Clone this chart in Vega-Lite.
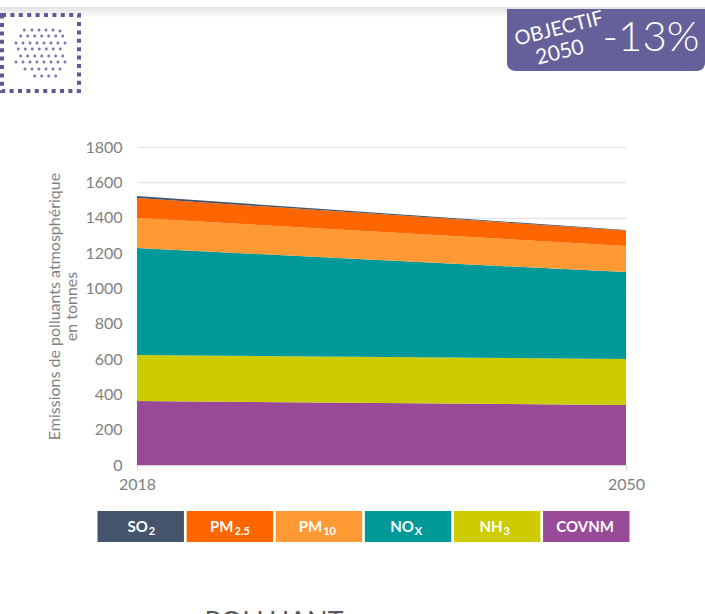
{
  "$schema": "https://vega.github.io/schema/vega-lite/v6.json",
  "width": 489,
  "height": 318,
  "autosize": "none",
  "padding": {"left": 137, "top": 147, "right": 79, "bottom": 149},
  "background": "white",
  "config": {"view": {"stroke": null}, "font": "Lato"},
  "datasets": {
    "emissions": [
      {"annee": 2018, "polluant": "COVNM", "rang": 1, "tonnes": 362},
      {"annee": 2018, "polluant": "NH3", "rang": 2, "tonnes": 260},
      {"annee": 2018, "polluant": "NOx", "rang": 3, "tonnes": 606},
      {"annee": 2018, "polluant": "PM10", "rang": 4, "tonnes": 170},
      {"annee": 2018, "polluant": "PM2.5", "rang": 5, "tonnes": 113},
      {"annee": 2018, "polluant": "SO2", "rang": 6, "tonnes": 11},
      {"annee": 2050, "polluant": "COVNM", "rang": 1, "tonnes": 340},
      {"annee": 2050, "polluant": "NH3", "rang": 2, "tonnes": 260},
      {"annee": 2050, "polluant": "NOx", "rang": 3, "tonnes": 492},
      {"annee": 2050, "polluant": "PM10", "rang": 4, "tonnes": 148},
      {"annee": 2050, "polluant": "PM2.5", "rang": 5, "tonnes": 87},
      {"annee": 2050, "polluant": "SO2", "rang": 6, "tonnes": 3}
    ],
    "polluants": [
      {"polluant": "SO2", "formule": "SO", "indice": "2"},
      {"polluant": "PM2.5", "formule": "PM", "indice": "2.5"},
      {"polluant": "PM10", "formule": "PM", "indice": "10"},
      {"polluant": "NOx", "formule": "NO", "indice": "X"},
      {"polluant": "NH3", "formule": "NH", "indice": "3"},
      {"polluant": "COVNM", "formule": "COVNM", "indice": ""}
    ]
  },
  "resolve": {"scale": {"x": "independent"}},
  "layer": [
    {
      "data": {"name": "emissions"},
      "mark": {"type": "area", "opacity": 1},
      "encoding": {
        "x": {
          "field": "annee",
          "type": "quantitative",
          "scale": {"domain": [2018, 2050], "nice": false, "zero": false},
          "axis": {
            "title": null,
            "values": [2018, 2050],
            "format": "d",
            "grid": false,
            "domainColor": "#d9d9d9",
            "domainWidth": 1.5,
            "tickColor": "#d9d9d9",
            "tickSize": 5,
            "labelColor": "#7f7f7f",
            "labelFontSize": 16,
            "labelPadding": 6,
            "labelFlush": false
          }
        },
        "y": {
          "field": "tonnes",
          "type": "quantitative",
          "stack": "zero",
          "scale": {"domain": [0, 1800], "nice": false},
          "axis": {
            "values": [0, 200, 400, 600, 800, 1000, 1200, 1400, 1600, 1800],
            "format": "d",
            "title": ["Emissions de polluants atmosphérique", "en tonnes"],
            "titleColor": "#7f7f7f",
            "titleFontSize": 16,
            "titleFontWeight": "normal",
            "titleLineHeight": 17,
            "titlePadding": 5,
            "domain": false,
            "ticks": false,
            "grid": true,
            "gridColor": "#e6e6e6",
            "gridWidth": 1.5,
            "labelColor": "#7f7f7f",
            "labelFontSize": 16,
            "labelPadding": 15
          }
        },
        "color": {
          "field": "polluant",
          "type": "nominal",
          "legend": null,
          "scale": {
            "domain": ["SO2", "PM2.5", "PM10", "NOx", "NH3", "COVNM"],
            "range": ["#44546a", "#ff6600", "#ff9933", "#009999", "#cccc00", "#984a99"]
          }
        },
        "order": {"field": "rang", "type": "quantitative"}
      }
    },
    {
      "data": {"name": "polluants"},
      "mark": {"type": "rect", "y": 364, "y2": 395},
      "encoding": {
        "x": {
          "field": "polluant", "type": "nominal", "axis": null,
          "scale": {"domain": ["SO2", "PM2.5", "PM10", "NOx", "NH3", "COVNM"], "range": [-39.5, 492.5], "paddingInner": 0.03, "paddingOuter": 0}
        },
        "color": {"field": "polluant", "type": "nominal", "legend": null}
      }
    },
    {
      "data": {"name": "polluants"},
      "transform": [{"filter": {"field": "polluant", "equal": "COVNM"}}],
      "mark": {"type": "text", "y": 380, "color": "white", "fontWeight": "bold", "fontSize": 15, "baseline": "middle"},
      "encoding": {
        "x": {
          "field": "polluant", "type": "nominal", "axis": null,
          "scale": {"domain": ["SO2", "PM2.5", "PM10", "NOx", "NH3", "COVNM"], "range": [-39.5, 492.5], "paddingInner": 0.03, "paddingOuter": 0}
        },
        "text": {"field": "formule"}
      }
    },
    {
      "data": {"name": "polluants"},
      "transform": [{"filter": {"field": "polluant", "oneOf": ["SO2", "NOx", "NH3"]}}],
      "mark": {"type": "text", "y": 380, "dx": 6, "align": "right", "color": "white", "fontWeight": "bold", "fontSize": 15, "baseline": "middle"},
      "encoding": {
        "x": {
          "field": "polluant", "type": "nominal", "axis": null,
          "scale": {"domain": ["SO2", "PM2.5", "PM10", "NOx", "NH3", "COVNM"], "range": [-39.5, 492.5], "paddingInner": 0.03, "paddingOuter": 0}
        },
        "text": {"field": "formule"}
      }
    },
    {
      "data": {"name": "polluants"},
      "transform": [{"filter": {"field": "polluant", "oneOf": ["SO2", "NOx", "NH3"]}}],
      "mark": {"type": "text", "y": 385, "dx": 7, "align": "left", "color": "white", "fontWeight": "bold", "fontSize": 11, "baseline": "middle"},
      "encoding": {
        "x": {
          "field": "polluant", "type": "nominal", "axis": null,
          "scale": {"domain": ["SO2", "PM2.5", "PM10", "NOx", "NH3", "COVNM"], "range": [-39.5, 492.5], "paddingInner": 0.03, "paddingOuter": 0}
        },
        "text": {"field": "indice"}
      }
    },
    {
      "data": {"name": "polluants"},
      "transform": [{"filter": {"field": "polluant", "oneOf": ["PM2.5", "PM10"]}}],
      "mark": {"type": "text", "y": 380, "dx": 3, "align": "right", "color": "white", "fontWeight": "bold", "fontSize": 15, "baseline": "middle"},
      "encoding": {
        "x": {
          "field": "polluant", "type": "nominal", "axis": null,
          "scale": {"domain": ["SO2", "PM2.5", "PM10", "NOx", "NH3", "COVNM"], "range": [-39.5, 492.5], "paddingInner": 0.03, "paddingOuter": 0}
        },
        "text": {"field": "formule"}
      }
    },
    {
      "data": {"name": "polluants"},
      "transform": [{"filter": {"field": "polluant", "oneOf": ["PM2.5", "PM10"]}}],
      "mark": {"type": "text", "y": 385, "dx": 4, "align": "left", "color": "white", "fontWeight": "bold", "fontSize": 11, "baseline": "middle"},
      "encoding": {
        "x": {
          "field": "polluant", "type": "nominal", "axis": null,
          "scale": {"domain": ["SO2", "PM2.5", "PM10", "NOx", "NH3", "COVNM"], "range": [-39.5, 492.5], "paddingInner": 0.03, "paddingOuter": 0}
        },
        "text": {"field": "indice"}
      }
    },
    {
      "data": {"values": [{}]},
      "mark": {
        "type": "rect", "x": -137, "x2": 568, "y": -140, "y2": -129,
        "fill": {
          "gradient": "linear", "x1": 0, "y1": 0, "x2": 0, "y2": 1,
          "stops": [{"offset": 0, "color": "#e2e2e2"}, {"offset": 1, "color": "#ffffff"}]
        }
      },
      "encoding": {}
    },
    {
      "data": {"values": [{}]},
      "mark": {
        "type": "rect", "x": 370, "x2": 568, "y": -138, "y2": -76,
        "fill": "#65609a", "cornerRadiusBottomLeft": 8, "cornerRadiusBottomRight": 8
      },
      "encoding": {}
    },
    {
      "data": {"values": [{"texte": "OBJECTIF"}]},
      "mark": {"type": "text", "x": 422, "y": -118, "angle": -14, "color": "white", "fontSize": 20, "fontWeight": 400, "baseline": "middle"},
      "encoding": {"text": {"field": "texte"}}
    },
    {
      "data": {"values": [{"texte": "2050"}]},
      "mark": {"type": "text", "x": 423, "y": -94, "angle": -14, "color": "white", "fontSize": 21, "fontWeight": 400, "baseline": "middle"},
      "encoding": {"text": {"field": "texte"}}
    },
    {
      "data": {"values": [{"texte": "-13%"}]},
      "mark": {"type": "text", "x": 514, "y": -109, "color": "white", "fontSize": 42, "fontWeight": 300, "baseline": "middle"},
      "encoding": {"text": {"field": "texte"}}
    },
    {
      "data": {"values": [{}]},
      "mark": {
        "type": "rect", "x": -135, "x2": -58, "y": -132, "y2": -56,
        "fillOpacity": 0, "stroke": "#5f5a95", "strokeWidth": 4, "strokeDash": [4, 4.4]
      },
      "encoding": {}
    },
    {
      "data": {"values": [{}]},
      "mark": {
        "type": "point", "filled": true, "opacity": 1, "color": "#7e7aab", "size": 4, "x": -137, "y": -147,
        "shape": "M22.8,30a1.5,1.5 0 1,0 3,0a1.5,1.5 0 1,0 -3,0ZM30.5,30a1.5,1.5 0 1,0 3,0a1.5,1.5 0 1,0 -3,0ZM37.5,30a1.5,1.5 0 1,0 3,0a1.5,1.5 0 1,0 -3,0ZM44.5,30a1.5,1.5 0 1,0 3,0a1.5,1.5 0 1,0 -3,0ZM51.5,30a1.5,1.5 0 1,0 3,0a1.5,1.5 0 1,0 -3,0ZM58.5,31a1.5,1.5 0 1,0 3,0a1.5,1.5 0 1,0 -3,0ZM19.2,36a1.5,1.5 0 1,0 3,0a1.5,1.5 0 1,0 -3,0ZM26.2,36a1.5,1.5 0 1,0 3,0a1.5,1.5 0 1,0 -3,0ZM33.2,36a1.5,1.5 0 1,0 3,0a1.5,1.5 0 1,0 -3,0ZM40.2,36a1.5,1.5 0 1,0 3,0a1.5,1.5 0 1,0 -3,0ZM47.2,36a1.5,1.5 0 1,0 3,0a1.5,1.5 0 1,0 -3,0ZM54.2,36a1.5,1.5 0 1,0 3,0a1.5,1.5 0 1,0 -3,0ZM61.2,36a1.5,1.5 0 1,0 3,0a1.5,1.5 0 1,0 -3,0ZM14.5,43a1.5,1.5 0 1,0 3,0a1.5,1.5 0 1,0 -3,0ZM21.5,43a1.5,1.5 0 1,0 3,0a1.5,1.5 0 1,0 -3,0ZM28.5,43a1.5,1.5 0 1,0 3,0a1.5,1.5 0 1,0 -3,0ZM35.5,43a1.5,1.5 0 1,0 3,0a1.5,1.5 0 1,0 -3,0ZM42.5,43a1.5,1.5 0 1,0 3,0a1.5,1.5 0 1,0 -3,0ZM49.5,43a1.5,1.5 0 1,0 3,0a1.5,1.5 0 1,0 -3,0ZM56.5,43a1.5,1.5 0 1,0 3,0a1.5,1.5 0 1,0 -3,0ZM63.5,43a1.5,1.5 0 1,0 3,0a1.5,1.5 0 1,0 -3,0ZM16.8,49a1.5,1.5 0 1,0 3,0a1.5,1.5 0 1,0 -3,0ZM23.8,49a1.5,1.5 0 1,0 3,0a1.5,1.5 0 1,0 -3,0ZM30.8,49a1.5,1.5 0 1,0 3,0a1.5,1.5 0 1,0 -3,0ZM37.8,49a1.5,1.5 0 1,0 3,0a1.5,1.5 0 1,0 -3,0ZM44.8,49a1.5,1.5 0 1,0 3,0a1.5,1.5 0 1,0 -3,0ZM51.8,49a1.5,1.5 0 1,0 3,0a1.5,1.5 0 1,0 -3,0ZM58.8,49a1.5,1.5 0 1,0 3,0a1.5,1.5 0 1,0 -3,0ZM19.2,56a1.5,1.5 0 1,0 3,0a1.5,1.5 0 1,0 -3,0ZM26.2,56a1.5,1.5 0 1,0 3,0a1.5,1.5 0 1,0 -3,0ZM33.2,56a1.5,1.5 0 1,0 3,0a1.5,1.5 0 1,0 -3,0ZM40.2,56a1.5,1.5 0 1,0 3,0a1.5,1.5 0 1,0 -3,0ZM47.2,56a1.5,1.5 0 1,0 3,0a1.5,1.5 0 1,0 -3,0ZM54.2,56a1.5,1.5 0 1,0 3,0a1.5,1.5 0 1,0 -3,0ZM61.2,56a1.5,1.5 0 1,0 3,0a1.5,1.5 0 1,0 -3,0ZM14.5,62a1.5,1.5 0 1,0 3,0a1.5,1.5 0 1,0 -3,0ZM21.5,62a1.5,1.5 0 1,0 3,0a1.5,1.5 0 1,0 -3,0ZM28.5,62a1.5,1.5 0 1,0 3,0a1.5,1.5 0 1,0 -3,0ZM35.5,62a1.5,1.5 0 1,0 3,0a1.5,1.5 0 1,0 -3,0ZM42.5,62a1.5,1.5 0 1,0 3,0a1.5,1.5 0 1,0 -3,0ZM49.5,62a1.5,1.5 0 1,0 3,0a1.5,1.5 0 1,0 -3,0ZM56.5,62a1.5,1.5 0 1,0 3,0a1.5,1.5 0 1,0 -3,0ZM63.5,62a1.5,1.5 0 1,0 3,0a1.5,1.5 0 1,0 -3,0ZM23.5,69a1.5,1.5 0 1,0 3,0a1.5,1.5 0 1,0 -3,0ZM30.5,69a1.5,1.5 0 1,0 3,0a1.5,1.5 0 1,0 -3,0ZM37.5,69a1.5,1.5 0 1,0 3,0a1.5,1.5 0 1,0 -3,0ZM44.5,69a1.5,1.5 0 1,0 3,0a1.5,1.5 0 1,0 -3,0ZM51.5,69a1.5,1.5 0 1,0 3,0a1.5,1.5 0 1,0 -3,0ZM58.5,69a1.5,1.5 0 1,0 3,0a1.5,1.5 0 1,0 -3,0ZM33.2,76a1.5,1.5 0 1,0 3,0a1.5,1.5 0 1,0 -3,0ZM40.2,76a1.5,1.5 0 1,0 3,0a1.5,1.5 0 1,0 -3,0ZM47.2,76a1.5,1.5 0 1,0 3,0a1.5,1.5 0 1,0 -3,0ZM54.2,76a1.5,1.5 0 1,0 3,0a1.5,1.5 0 1,0 -3,0Z"
      },
      "encoding": {}
    },
    {
      "data": {"values": [{"texte": "POLLUANT"}]},
      "mark": {"type": "text", "x": 137, "y": 483.5, "color": "#595959", "fontSize": 27, "baseline": "alphabetic"},
      "encoding": {"text": {"field": "texte"}}
    }
  ]
}
